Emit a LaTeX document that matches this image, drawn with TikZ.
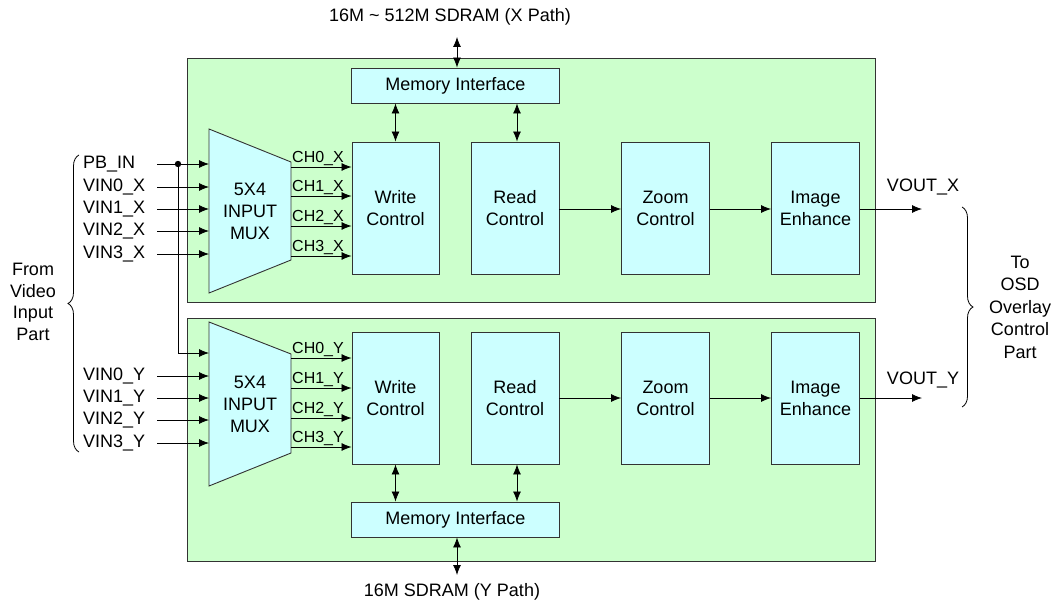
\documentclass[tikz,border=0pt]{standalone}
\usepackage{fontspec}
\setmainfont{Liberation Sans}
\usetikzlibrary{arrows.meta,decorations.pathreplacing}

\definecolor{panelgreen}{HTML}{CCFFCC}
\definecolor{blockcyan}{HTML}{CCFFFF}
\definecolor{edgegray}{HTML}{333333}

\tikzset{
  panel/.style={draw=edgegray, fill=panelgreen, line width=0.9pt},
  block/.style={draw=edgegray, fill=blockcyan, line width=0.9pt, inner sep=0pt,
    align=center, font=\fontsize{18}{22}\selectfont},
  lbl/.style={inner sep=0pt, font=\fontsize{18}{22}\selectfont},
  chlbl/.style={inner sep=0pt, anchor=south west, font=\fontsize{16}{18}\selectfont},
  sig/.style={line width=0.8pt, -{Latex[length=10pt,width=8pt]}},
  bus/.style={line width=0.8pt, {Latex[length=10pt,width=8pt]}-{Latex[length=10pt,width=8pt]}},
  wire/.style={line width=0.8pt},
  curly/.style={line width=0.8pt, decorate, decoration={brace, amplitude=11pt}},
}

\begin{document}
\begin{tikzpicture}[x=1pt, y=-1pt]
  \useasboundingbox (0,0) rectangle (1053,602);

  % ---------- two processing paths ----------
  \draw[panel] (187,58) rectangle (875,302);
  \draw[panel] (187,318) rectangle (875,561);

  % ---------- X path ----------
  \node[block, minimum width=208pt, minimum height=35pt] (memx) at (455.5,85.5) {Memory Interface};
  \node[block, minimum width=87pt, minimum height=132pt] (wrx) at (395.5,208) {Write\\Control};
  \node[block, minimum width=88pt, minimum height=132pt] (rdx) at (515,208) {Read\\Control};
  \node[block, minimum width=88pt, minimum height=132pt] (zmx) at (665.5,208) {Zoom\\Control};
  \node[block, minimum width=88pt, minimum height=132pt] (enx) at (815.5,208) {Image\\Enhance};

  \draw[draw=edgegray, fill=blockcyan, line width=0.9pt]
    (209,129) -- (291,162) -- (291,260) -- (209,293) -- cycle;
  \node[lbl, align=center] (muxx) at (250,211) {5X4\\INPUT\\MUX};

  % ---------- Y path ----------
  \node[block, minimum width=208pt, minimum height=35pt] (memy) at (455.5,519.5) {Memory Interface};
  \node[block, minimum width=87pt, minimum height=132pt] (wry) at (395.5,398) {Write\\Control};
  \node[block, minimum width=88pt, minimum height=132pt] (rdy) at (515,398) {Read\\Control};
  \node[block, minimum width=88pt, minimum height=132pt] (zmy) at (665.5,398) {Zoom\\Control};
  \node[block, minimum width=88pt, minimum height=132pt] (eny) at (815.5,398) {Image\\Enhance};

  \draw[draw=edgegray, fill=blockcyan, line width=0.9pt]
    (209,322) -- (291,354) -- (291,453) -- (209,486) -- cycle;
  \node[lbl, align=center] (muxy) at (250,404) {5X4\\INPUT\\MUX};

  % ---------- memory buses ----------
  \node[lbl] (sdx) at (450,17) {16M \textasciitilde{} 512M SDRAM (X Path)};
  \coordinate (sdxa) at (457,37);
  \draw[bus] (sdxa) -- (memx.north -| sdxa);
  \draw[bus] (memx.south -| wrx) -- (wrx.north);
  \draw[bus] (memx.south -| 517,0) -- (rdx.north -| 517,0);

  \node[lbl] (sdy) at (452,592) {16M SDRAM (Y Path)};
  \coordinate (sdya) at (457,575);
  \draw[bus] (memy.south -| sdya) -- (sdya);
  \draw[bus] (wry.south) -- (memy.north -| wry);
  \draw[bus] (rdy.south -| 517,0) -- (memy.north -| 517,0);

  % ---------- data flow ----------
  \draw[sig] (rdx.east |- 0,209) -- (zmx.west |- 0,209);
  \draw[sig] (zmx.east |- 0,209) -- (enx.west |- 0,209);
  \coordinate (voutx) at (922,209);
  \draw[sig] (enx.east |- voutx) -- (voutx);
  \node[lbl] (voutxl) at (923,187) {VOUT\_X};

  \draw[sig] (rdy.east |- 0,398) -- (zmy.west |- 0,398);
  \draw[sig] (zmy.east |- 0,398) -- (eny.west |- 0,398);
  \coordinate (vouty) at (922,398);
  \draw[sig] (eny.east |- vouty) -- (vouty);
  \node[lbl] (voutyl) at (923,380) {VOUT\_Y};

  % ---------- mux outputs ----------
  \foreach \y/\n in {167/0,196/1,226/2,256/3}{
    \draw[sig] (291,\y) -- (wrx.west |- 0,\y);
    \node[chlbl] (chx\n) at (292,\y-1) {CH\n\_X};
  }
  \foreach \y/\n in {358/0,388/1,418/2,447/3}{
    \draw[sig] (291,\y) -- (wry.west |- 0,\y);
    \node[chlbl] (chy\n) at (292,\y-1) {CH\n\_Y};
  }

  % ---------- mux inputs ----------
  \foreach \y/\t/\n in {164/PB\_IN/pb,187/VIN0\_X/x0,209/VIN1\_X/x1,231/VIN2\_X/x2,254/VIN3\_X/x3}{
    \node[lbl, anchor=west] (in\n) at (83,\y) {\t};
    \draw[sig] (157,\y) -- (209,\y);
  }
  \foreach \y/\t/\n in {376/VIN0\_Y/y0,398/VIN1\_Y/y1,420/VIN2\_Y/y2,443/VIN3\_Y/y3}{
    \node[lbl, anchor=west] (in\n) at (83,\y) {\t};
    \draw[sig] (157,\y) -- (209,\y);
  }
  \coordinate (pbdot) at (178,164);
  \fill (pbdot) circle (3.2pt);
  \draw[wire] (pbdot) -- (178,353);
  \draw[sig] (178,353) -- (209,353);

  % ---------- side braces ----------
  \draw[curly] (79,452) -- (79,155);
  \node[lbl, align=center, font=\fontsize{18}{21.5}\selectfont] (from) at (33,302) {From\\Video\\Input\\Part};

  \draw[curly] (962,207) -- (962,407);
  \node[lbl, align=center, font=\fontsize{18}{22.5}\selectfont] (to) at (1020,307) {To\\OSD\\Overlay\\Control\\Part};
\end{tikzpicture}
\end{document}
